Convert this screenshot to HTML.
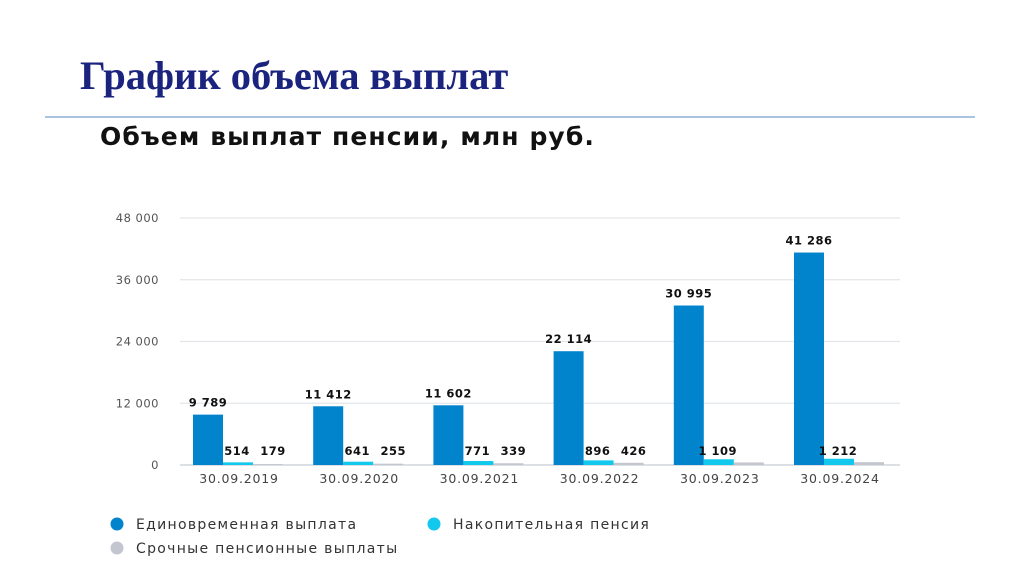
<!DOCTYPE html>
<html><head><meta charset="utf-8"><style>
body{margin:0;width:1024px;height:574px;background:#fff;overflow:hidden;position:relative;font-family:"DejaVu Sans","Liberation Sans",sans-serif}
#t{position:absolute;left:80px;top:52px;font-family:"Liberation Serif",serif;font-weight:bold;font-size:40.5px;color:#1a237e}
#hr{position:absolute;left:45px;top:116px;width:930px;height:2px;background:#a8c4e0}
#st{position:absolute;left:100px;top:122px;font-family:"DejaVu Sans",sans-serif;font-weight:bold;font-size:25px;color:#111;letter-spacing:1.1px}
svg{position:absolute;left:0;top:0}
</style></head><body>
<div id="t">График объема выплат</div>
<div id="hr"></div>
<div id="st">Объем выплат пенсии, млн руб.</div>
<svg id="c" width="1024" height="574" font-family="DejaVu Sans, sans-serif"></svg>
<script>
const categories=["30.09.2019","30.09.2020","30.09.2021","30.09.2022","30.09.2023","30.09.2024"];
const lumpSum=[9789,11412,11602,22114,30995,41286];
const funded=[514,641,771,896,1109,1212];
const urgent=[179,255,339,426,500,550];
const urgentLabels=["179","255","339","426","",""];
const ticks=[0,12000,24000,36000,48000];
const tickLabels=["0","12 000","24 000","36 000","48 000"];
const fmt=v=>String(v).replace(/\B(?=(\d{3})+(?!\d))/g," ");
const svg=document.getElementById('c'),NS="http://www.w3.org/2000/svg";
const y=v=>465-v*247/48000;
const x0=c=>239+c*120.2-46;
function mk(t,a,txt){const e=document.createElementNS(NS,t);for(const k in a)e.setAttribute(k,a[k]);if(txt!=null)e.textContent=txt;svg.appendChild(e);return e;}
ticks.forEach((t,i)=>{
 const l=mk('line',{x1:180,x2:900,y1:y(t),y2:y(t),stroke:i?'#e3e6ea':'#c8ccd2','stroke-width':1.2});
 
 const tx=mk('text',{x:159,y:y(t)+4,'text-anchor':'end','font-size':11.5,fill:'#555','letter-spacing':0.5},tickLabels[i]);
 
});
const series=[[lumpSum,'#0284cc'],[funded,'#12c8ec'],[urgent,'#c4c6cf']];
categories.forEach((c,i)=>{
 series.forEach(([arr,col],s)=>{
  const r=mk('rect',{x:x0(i)+s*30,y:y(arr[i]),width:30,height:465-y(arr[i]),fill:col});
  
  
  let lab=s==2?urgentLabels[i]:fmt(arr[i]);
  if(lab){const lx=s==0?x0(i)+15:(s==1?x0(i)+44:x0(i)+80);
   const ly=s==0?y(arr[i])-8:455;
   const tt=mk('text',{x:lx,y:ly,'text-anchor':'middle','font-size':11.5,'font-weight':'bold',fill:'#111','letter-spacing':0.5},lab);
   }
 });
 const ct=mk('text',{x:x0(i)+46,y:483,'text-anchor':'middle','font-size':12.5,fill:'#444','letter-spacing':0.8},c);
 
});
const legend=[["Единовременная выплата",'#0284cc',117,524],["Накопительная пенсия",'#12c8ec',434,524],["Срочные пенсионные выплаты",'#c4c6cf',117,548]];
legend.forEach(([t,c,lx,ly])=>{
 const g=mk('circle',{cx:lx,cy:ly,r:6.5,fill:c});
 const tx=mk('text',{x:lx+19,y:ly+5,'font-size':14,fill:'#333','letter-spacing':1.3},t);
});
</script>
</body></html>
